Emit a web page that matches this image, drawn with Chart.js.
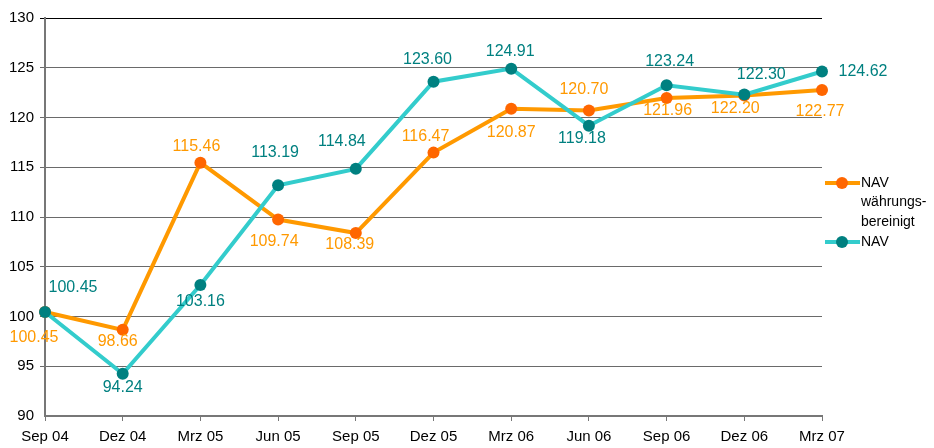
<!DOCTYPE html>
<html>
<head>
<meta charset="utf-8">
<script src="https://cdn.jsdelivr.net/npm/chart.js@4"></script>
<style>
  html, body { margin: 0; padding: 0; background: #fff; }
  #wrap { width: 934px; height: 448px; }
</style>
</head>
<body>
<div id="wrap"><canvas id="navChart" width="934" height="448"></canvas></div>
<script>
var quarters = ["Sep 04", "Dez 04", "Mrz 05", "Jun 05", "Sep 05", "Dez 05", "Mrz 06", "Jun 06", "Sep 06", "Dez 06", "Mrz 07"];
var navAdjusted = [100.45, 98.66, 115.46, 109.74, 108.39, 116.47, 120.87, 120.70, 121.96, 122.20, 122.77];
var nav = [100.45, 94.24, 103.16, 113.19, 114.84, 123.60, 124.91, 119.18, 123.24, 122.30, 124.62];
var yTicks = [90, 95, 100, 105, 110, 115, 120, 125, 130];

// where each value label sits relative to its point (dx, dy)
var adjustedLabelPos = [[-11, 26], [-5, 12], [-4, -16], [-4, 22], [-6, 12], [-8, -16], [0, 24], [-5, -21], [1, 13], [-9, 13], [-2, 22]];
var navLabelPos = [[28, -24], [0, 14], [0, 17], [-3, -33], [-14, -27], [-6, -22], [-1, -17], [-7, 13], [3, -24], [17, -20], [41, 0]];

var FONT = "'Liberation Sans', Arial, sans-serif";

var valueLabels = {
    id: 'valueLabels',
    afterDatasetsDraw: function (chart) {
        var c = chart.ctx;
        chart.data.datasets.forEach(function (ds, i) {
            var meta = chart.getDatasetMeta(i);
            c.save();
            c.font = "16px " + FONT;
            c.fillStyle = ds.labelColor;
            c.textAlign = 'center';
            c.textBaseline = 'middle';
            meta.data.forEach(function (pt, j) {
                var off = ds.labelPos[j];
                c.fillText(ds.data[j].toFixed(2), pt.x + off[0], pt.y + off[1]);
            });
            c.restore();
        });
    }
};

var sideLegend = {
    id: 'sideLegend',
    afterDraw: function (chart) {
        var c = chart.ctx;
        var items = [
            {ds: chart.data.datasets[0], y: 183, lines: ["NAV", "währungs-", "bereinigt"]},
            {ds: chart.data.datasets[1], y: 242, lines: ["NAV"]}
        ];
        c.save();
        items.forEach(function (it) {
            c.strokeStyle = it.ds.borderColor;
            c.lineWidth = 4;
            c.beginPath();
            c.moveTo(825, it.y);
            c.lineTo(860, it.y);
            c.stroke();
            c.fillStyle = it.ds.pointBackgroundColor;
            c.beginPath();
            c.arc(842, it.y, 6, 0, Math.PI * 2);
            c.fill();
            c.fillStyle = '#000';
            c.font = "14px " + FONT;
            c.textAlign = 'left';
            c.textBaseline = 'middle';
            it.lines.forEach(function (t, k) {
                c.fillText(t, 861, it.y + k * 19.5);
            });
        });
        c.restore();
    }
};

var lineData = {
    labels: quarters,
    datasets: [
        {
            label: "NAV währungsbereinigt",
            data: navAdjusted,
            order: 1,
            borderColor: "#FF9900",
            pointBackgroundColor: "#FF6600",
            pointBorderColor: "#FF6600",
            labelColor: "#FF9900",
            labelPos: adjustedLabelPos,
            borderWidth: 4,
            pointRadius: 6,
            pointBorderWidth: 0,
            tension: 0
        },
        {
            label: "NAV",
            data: nav,
            order: 0,
            borderColor: "#33CCCC",
            pointBackgroundColor: "#008080",
            pointBorderColor: "#008080",
            labelColor: "#008080",
            labelPos: navLabelPos,
            borderWidth: 4,
            pointRadius: 6,
            pointBorderWidth: 0,
            tension: 0
        }
    ]
};

var lineOptions = {
    responsive: false,
    animation: false,
    layout: { padding: { top: 18, right: 112, left: 0, bottom: 0 } },
    plugins: { legend: { display: false }, tooltip: { enabled: false } },
    scales: {
        x: {
            offset: false,
            grid: { drawOnChartArea: false, drawTicks: true, tickLength: 5, color: '#777' },
            border: { color: '#777', width: 2 },
            ticks: { color: '#000', font: { family: FONT, size: 15 }, padding: 7, maxRotation: 0, autoSkip: false },
            afterFit: function (s) { s.height = 32; }
        },
        y: {
            min: 90,
            max: 130,
            afterBuildTicks: function (s) { s.ticks = yTicks.map(function (v) { return {value: v}; }); },
            grid: {
                tickLength: 5,
                color: function (ctx) { return ctx.tick && ctx.tick.value === 130 ? '#000' : '#6a6a6a'; },
                lineWidth: function (ctx) { return ctx.tick && ctx.tick.value === 90 ? 0 : 1; }
            },
            border: { color: '#777', width: 2 },
            ticks: { color: '#000', font: { family: FONT, size: 15 }, padding: 6 },
            afterFit: function (s) { s.width = 45; }
        }
    }
};

var ctx = document.getElementById("navChart").getContext("2d");
new Chart(ctx, {type: 'line', data: lineData, options: lineOptions, plugins: [valueLabels, sideLegend]});
</script>
</body>
</html>
